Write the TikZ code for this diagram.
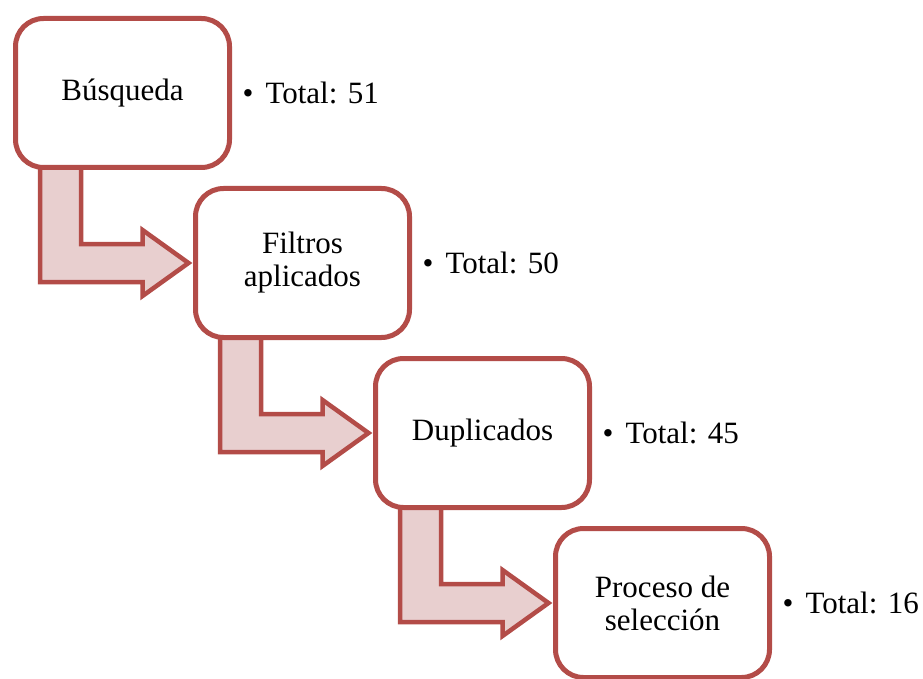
\documentclass[tikz,border=0pt]{standalone}
\usepackage{fontspec}
\setmainfont{Liberation Serif}
\usepackage{xcolor}
\usepackage{tikz}
\usetikzlibrary{positioning,calc,backgrounds}
\definecolor{accred}{HTML}{B34C48}
\definecolor{accpink}{HTML}{E8CFCF}
\tikzset{
  stepbox/.style={draw=accred,fill=white,line width=5pt,rounded corners=28pt,align=center,inner sep=0pt,outer sep=0pt,minimum width=214pt,minimum height=149pt,font=\fontsize{31}{33}\selectfont},
  total/.style={inner sep=0pt,anchor=west,font=\fontsize{31}{33}\selectfont},
  bentarrow/.style={draw=accred,fill=accpink,line width=4.5pt,line join=miter},
}
\begin{document}
\begin{tikzpicture}[x=1pt,y=-1pt]
  \useasboundingbox (0,0) rectangle (923,679);
  % steps
  \foreach \i/\x/\y/\txt/\n in {1/122.5/93/{Búsqueda}/51, 2/302.5/263/{Filtros\\aplicados}/50, 3/482.5/433/{Duplicados}/45, 4/662.5/603/{Proceso de\\selección}/16} {
     \node[stepbox] (box\i) at (\x,\y) {\txt};
     \node[total,right=13pt of box\i] (tot\i) {\textbullet\hspace{12pt}Total: \n};
  }
  % bent arrows behind the boxes
  \begin{scope}[on background layer]
  \foreach \i/\j in {1/2,2/3,3/4} {
     \coordinate (tip\j) at ($(box\j.west)+(-7,0)$);
     \draw[bentarrow] ($(box\i.south west)+(24.5,-4)$) |- ($(tip\j)+(-46,19)$) -- ++(0,14) -- (tip\j)
        -- ++(-46,-33) -- ++(0,14) -| ($(box\i.south west)+(65.5,-4)$) -- cycle;
  }
  \end{scope}
\end{tikzpicture}
\end{document}
